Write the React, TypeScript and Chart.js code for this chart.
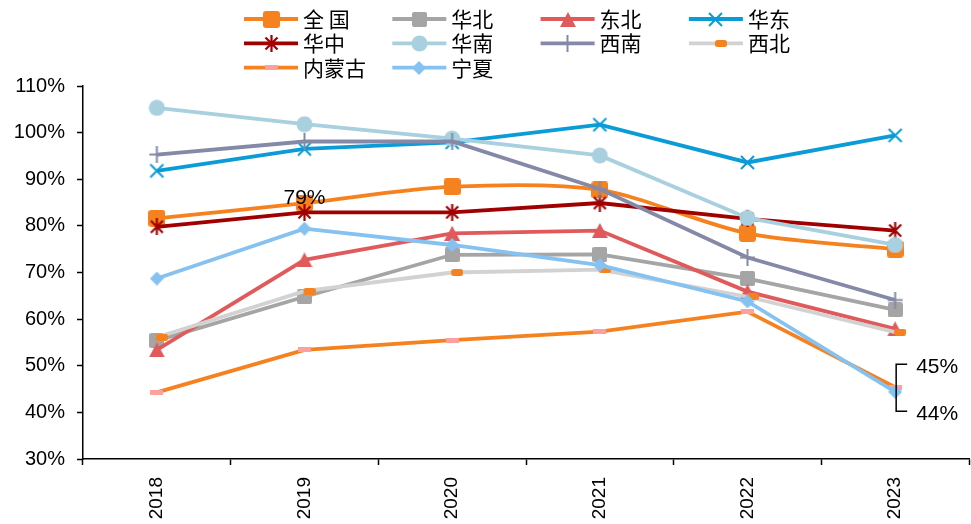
import { useEffect, useRef } from 'react';
import { Chart, registerables } from 'chart.js';

Chart.register(...registerables);

// Categories and axis range
const years = ['2018', '2019', '2020', '2021', '2022', '2023'];
const yMin = 30;
const yMax = 110;
const yStep = 10;

// Series values (%)
const national = [81.6, 84.9, 88.4, 87.7, 78.4, 75.0];
const north = [55.4, 64.8, 73.8, 73.9, 68.7, 62.0];
const northeast = [53.4, 72.7, 78.4, 79.0, 65.9, 57.9];
const east = [91.8, 96.5, 97.9, 101.7, 93.6, 99.4];
const central = [79.8, 82.9, 82.9, 84.9, 81.5, 79.0];
const south = [105.3, 101.8, 98.7, 95.1, 81.7, 75.9];
const southwest = [95.3, 98.1, 98.1, 87.9, 73.2, 64.1];
const northwest = [56.1, 66.0, 70.0, 70.6, 64.8, 57.2];
const innerMongolia = [44.3, 53.4, 55.5, 57.3, 61.6, 45.4];
const ningxia = [68.7, 79.4, 75.9, 71.6, 63.8, 44.4];

const seriesNames = ['全 国', '华北', '东北', '华东', '华中', '华南', '西南', '西北', '内蒙古', '宁夏'];

const ORANGE = '#F5821F';

type Painter = (ctx: CanvasRenderingContext2D, w: number, h: number) => void;

function makeMarker(w: number, h: number, paint: Painter): HTMLCanvasElement {
  const c = document.createElement('canvas');
  c.width = w;
  c.height = h;
  const ctx = c.getContext('2d') as CanvasRenderingContext2D;
  paint(ctx, w, h);
  return c;
}

function roundRect(ctx: CanvasRenderingContext2D, x: number, y: number, w: number, h: number, r: number, color: string) {
  ctx.fillStyle = color;
  ctx.beginPath();
  ctx.moveTo(x + r, y);
  ctx.lineTo(x + w - r, y);
  ctx.arcTo(x + w, y, x + w, y + r, r);
  ctx.lineTo(x + w, y + h - r);
  ctx.arcTo(x + w, y + h, x + w - r, y + h, r);
  ctx.lineTo(x + r, y + h);
  ctx.arcTo(x, y + h, x, y + h - r, r);
  ctx.lineTo(x, y + r);
  ctx.arcTo(x, y, x + r, y, r);
  ctx.closePath();
  ctx.fill();
}

function strokeLines(ctx: CanvasRenderingContext2D, color: string, width: number, segs: number[][]) {
  ctx.strokeStyle = color;
  ctx.lineWidth = width;
  ctx.lineCap = 'butt';
  ctx.beginPath();
  for (const [x1, y1, x2, y2] of segs) {
    ctx.moveTo(x1, y1);
    ctx.lineTo(x2, y2);
  }
  ctx.stroke();
}

function buildMarkers() {
  return [
    makeMarker(17, 17, (c) => roundRect(c, 0, 0, 17, 17, 3, ORANGE)),
    makeMarker(15, 15, (c) => roundRect(c, 0, 0, 15, 15, 2, '#A5A5A5')),
    makeMarker(16, 15, (c) => {
      c.fillStyle = '#E05A5B';
      c.beginPath();
      c.moveTo(8, 0);
      c.lineTo(16, 15);
      c.lineTo(0, 15);
      c.closePath();
      c.fill();
    }),
    makeMarker(17, 17, (c) => strokeLines(c, '#0B9BD7', 2, [[2, 2, 15, 15], [15, 2, 2, 15]])),
    makeMarker(17, 17, (c) =>
      strokeLines(c, '#A00000', 2.2, [[2.5, 2.5, 14.5, 14.5], [14.5, 2.5, 2.5, 14.5], [8.5, 0, 8.5, 17]])
    ),
    makeMarker(17, 17, (c) => {
      c.fillStyle = '#A8D0DF';
      c.beginPath();
      c.arc(8.5, 8.5, 8, 0, Math.PI * 2);
      c.fill();
    }),
    makeMarker(17, 17, (c) => strokeLines(c, '#8389A6', 2, [[8.5, 0, 8.5, 17], [1, 8.5, 16, 8.5]])),
    makeMarker(22, 7, (c) => roundRect(c, 10, 0, 12, 7, 2.5, ORANGE)),
    makeMarker(13, 5, (c) => {
      c.fillStyle = '#FFA0A0';
      c.fillRect(0, 0, 13, 5);
    }),
    makeMarker(14, 14, (c) => {
      c.fillStyle = '#85C2F2';
      c.beginPath();
      c.moveTo(7, 0);
      c.lineTo(14, 7);
      c.lineTo(7, 14);
      c.lineTo(0, 7);
      c.closePath();
      c.fill();
    }),
  ];
}

const pct = (v: number) => `${Math.round(v)}%`;

export default function App() {
  const canvasRef = useRef<HTMLCanvasElement | null>(null);

  useEffect(() => {
    const canvas = canvasRef.current;
    if (!canvas) return;
    const markers = buildMarkers();

    const values = [national, north, northeast, east, central, south, southwest, northwest, innerMongolia, ningxia];
    const colors = [ORANGE, '#A5A5A5', '#E05A5B', '#0B9BD7', '#A00000', '#A8D0DF', '#8389A6', '#D2D2D2', ORANGE, '#85C2F2'];
    const tensions = [0.3, 0, 0, 0, 0, 0, 0, 0, 0, 0];

    const datasets = values.map((data, i) => ({
      label: seriesNames[i],
      data,
      borderColor: colors[i],
      backgroundColor: colors[i],
      borderWidth: 3.8,
      tension: tensions[i],
      pointStyle: markers[i],
      pointRadius: 8,
      order: values.length - i,
    }));

    // Legend laid out in a 4-column grid above the plot
    const gridLegend = {
      id: 'gridLegend',
      afterDraw(chart: Chart) {
        const ctx = chart.ctx;
        ctx.save();
        ctx.font = '21px "Noto Sans CJK SC", sans-serif';
        ctx.textBaseline = 'middle';
        ctx.textAlign = 'left';
        chart.data.datasets.forEach((ds: any, i: number) => {
          const col = i % 4;
          const row = Math.floor(i / 4);
          const x0 = 244 + col * 148.3;
          const y0 = 19 + row * 24.3;
          ctx.strokeStyle = ds.borderColor;
          ctx.lineWidth = 3.8;
          ctx.beginPath();
          ctx.moveTo(x0, y0);
          ctx.lineTo(x0 + 54, y0);
          ctx.stroke();
          const m = markers[i];
          ctx.drawImage(m, Math.round(x0 + 27 - m.width / 2), Math.round(y0 - m.height / 2));
          ctx.fillStyle = '#000';
          ctx.fillText(ds.label, x0 + 59, y0);
        });
        ctx.restore();
      },
    };

    // Value labels and leader bracket
    const notes = {
      id: 'notes',
      afterDatasetsDraw(chart: Chart) {
        const { ctx } = chart;
        const xs = chart.scales.x;
        const ys = chart.scales.y;
        ctx.save();
        ctx.font = '21px "Liberation Sans", Arial, sans-serif';
        ctx.fillStyle = '#000';
        ctx.textBaseline = 'middle';

        ctx.textAlign = 'center';
        ctx.fillText(pct(ningxia[1]), xs.getPixelForValue(1), ys.getPixelForValue(ningxia[1]) - 30);

        const bx = xs.getPixelForValue(5) + 1;
        const top = ys.getPixelForValue(innerMongolia[5]) - 23;
        const bottom = ys.getPixelForValue(ningxia[5]) + 19.5;
        ctx.strokeStyle = '#000';
        ctx.lineWidth = 1.5;
        ctx.beginPath();
        ctx.moveTo(bx + 11, top);
        ctx.lineTo(bx, top);
        ctx.lineTo(bx, bottom);
        ctx.lineTo(bx + 11, bottom);
        ctx.stroke();

        ctx.textAlign = 'left';
        ctx.fillText(pct(innerMongolia[5]), bx + 20, top + 3);
        ctx.fillText(pct(ningxia[5]), bx + 20, bottom + 3);
        ctx.restore();
      },
    };

    const chart = new Chart(canvas, {
      type: 'line',
      data: { labels: years, datasets },
      options: {
        animation: false,
        responsive: false,
        devicePixelRatio: 1,
        events: [],
        layout: { autoPadding: false, padding: { top: 86, left: 0, right: 2, bottom: 0 } },
        plugins: {
          legend: { display: false },
          tooltip: { enabled: false },
        },
        scales: {
          x: {
            offset: true,
            grid: {
              offset: true,
              drawOnChartArea: false,
              drawTicks: true,
              tickLength: 6,
              tickColor: '#000',
              tickWidth: 1.5,
            },
            border: { display: true, color: '#000', width: 1.5 },
            ticks: {
              minRotation: 90,
              maxRotation: 90,
              padding: 12,
              color: '#000',
              font: { family: '"Liberation Sans", Arial, sans-serif', size: 19 },
            },
            afterFit: (s: any) => {
              s.height = 65;
              s.paddingLeft = 0;
              s.paddingRight = 0;
            },
          },
          y: {
            min: yMin,
            max: yMax,
            grid: {
              drawOnChartArea: false,
              drawTicks: true,
              tickLength: 6,
              tickColor: '#000',
              tickWidth: 1.5,
            },
            border: { display: true, color: '#000', width: 1.5 },
            ticks: {
              stepSize: yStep,
              padding: 12,
              color: '#000',
              font: { family: '"Liberation Sans", Arial, sans-serif', size: 20 },
              callback: (v: any) => `${v}%`,
            },
            afterFit: (s: any) => {
              s.width = 83;
              s.paddingTop = 0;
              s.paddingBottom = 0;
            },
          },
        },
      },
      plugins: [gridLegend, notes],
    });

    return () => chart.destroy();
  }, []);

  return (
    <div style={{ position: 'fixed', left: 0, top: 0, width: 971, height: 524, background: '#fff' }}>
      <canvas ref={canvasRef} width={971} height={524} style={{ display: 'block' }} />
    </div>
  );
}
